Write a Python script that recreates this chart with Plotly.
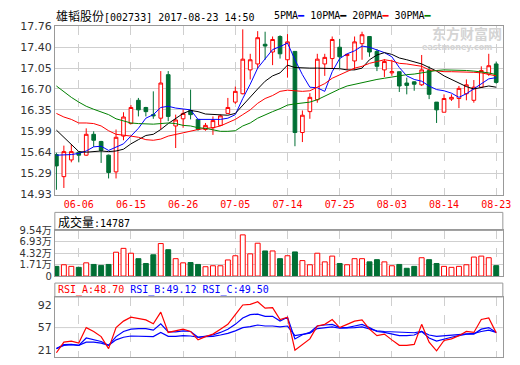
import plotly.graph_objects as go

# ---------------- data ----------------
DATES = ['06-01', '06-02', '06-05', '06-06', '06-07', '06-08', '06-09', '06-12', '06-13', '06-14',
         '06-15', '06-16', '06-19', '06-20', '06-21', '06-22', '06-23', '06-26', '06-27', '06-28',
         '06-29', '06-30', '07-03', '07-04', '07-05', '07-06', '07-07', '07-10', '07-11', '07-12',
         '07-13', '07-14', '07-17', '07-18', '07-19', '07-20', '07-21', '07-24', '07-25', '07-26',
         '07-27', '07-28', '07-31', '08-01', '08-02', '08-03', '08-04', '08-07', '08-08', '08-09',
         '08-10', '08-11', '08-14', '08-15', '08-16', '08-17', '08-18', '08-21', '08-22', '08-23']

OPEN = [15.60, 15.23, 15.51, 15.64, 15.59, 15.94, 15.82, 15.59, 15.31, 15.91,
        16.12, 16.51, 16.39, 16.27, 16.21, 16.94, 16.08, 16.20, 16.34, 16.19,
        16.02, 16.05, 16.09, 16.29, 16.48, 16.62, 17.02, 17.12, 17.45, 17.32,
        17.58, 17.19, 17.33, 15.97, 16.32, 16.52, 17.12, 17.21, 17.40, 17.26,
        17.17, 17.46, 17.58, 17.33, 17.02, 16.97, 16.99, 16.80, 16.82, 16.77,
        17.01, 16.48, 16.31, 16.53, 16.54, 16.62, 16.51, 16.73, 16.95, 17.12]
HIGH = [15.63, 15.75, 15.77, 15.65, 16.04, 15.99, 15.83, 15.60, 16.02, 16.31,
        16.43, 16.55, 16.40, 16.66, 17.00, 17.00, 16.27, 16.36, 16.69, 16.19,
        16.13, 16.24, 16.27, 16.55, 16.74, 17.70, 17.29, 17.67, 17.66, 17.58,
        17.60, 17.62, 17.33, 16.34, 16.63, 17.29, 17.29, 17.58, 17.54, 17.28,
        17.58, 17.66, 17.58, 17.37, 17.20, 17.19, 16.99, 16.89, 16.83, 17.27,
        17.08, 16.48, 16.61, 16.61, 16.75, 16.86, 16.85, 17.08, 17.29, 17.16]
LOW = [15.01, 15.04, 15.47, 15.47, 15.58, 15.73, 15.46, 15.20, 15.20, 15.84,
       16.11, 16.24, 16.24, 16.20, 16.02, 16.16, 15.71, 16.05, 16.19, 16.00,
       16.00, 15.93, 16.08, 16.28, 16.45, 16.61, 16.86, 17.05, 17.19, 17.10,
       17.21, 16.89, 15.74, 15.81, 16.20, 16.47, 16.92, 17.05, 17.05, 17.02,
       17.02, 17.19, 17.24, 17.00, 16.90, 16.92, 16.65, 16.61, 16.67, 16.75,
       16.53, 16.13, 16.31, 16.50, 16.38, 16.51, 16.47, 16.72, 16.92, 16.79]
CLOSE = [15.41, 15.65, 15.65, 15.59, 15.94, 15.84, 15.67, 15.30, 15.89, 16.23,
         16.39, 16.35, 16.32, 16.25, 16.80, 16.24, 16.18, 16.29, 16.27, 16.02,
         16.09, 16.17, 16.25, 16.39, 16.66, 17.20, 17.19, 17.56, 17.42, 17.53,
         17.29, 17.49, 15.97, 16.26, 16.56, 17.20, 17.23, 17.53, 17.24, 17.28,
         17.49, 17.61, 17.32, 17.08, 17.16, 16.99, 16.75, 16.76, 16.78, 17.02,
         16.61, 16.35, 16.54, 16.56, 16.71, 16.77, 16.73, 17.01, 17.09, 16.81]

MA5 = [15.59, 15.59, 15.60, 15.62, 15.66, 15.73, 15.74, 15.67, 15.73, 15.78,
       15.91, 16.04, 16.21, 16.27, 16.39, 16.41, 16.38, 16.36, 16.35, 16.19,
       16.19, 16.19, 16.19, 16.21, 16.27, 16.54, 16.78, 17.05, 17.21, 17.36,
       17.41, 17.47, 17.19, 16.94, 16.73, 16.72, 16.66, 16.99, 17.21, 17.29,
       17.34, 17.42, 17.40, 17.35, 17.31, 17.24, 17.06, 16.92, 16.86, 16.83,
       16.75, 16.69, 16.67, 16.63, 16.56, 16.62, 16.70, 16.78, 16.87, 16.89]
MA10 = [16.01, 15.89, 15.77, 15.65, 15.64, 15.65, 15.66, 15.65, 15.66, 15.69,
        15.78, 15.85, 15.92, 15.94, 16.02, 16.12, 16.20, 16.29, 16.34, 16.32,
        16.28, 16.27, 16.27, 16.26, 16.29, 16.43, 16.56, 16.70, 16.83, 16.92,
        16.97, 17.10, 17.06, 17.05, 17.05, 17.05, 17.05, 17.05, 17.04, 17.02,
        17.02, 17.05, 17.19, 17.27, 17.31, 17.28, 17.22, 17.19, 17.15, 17.12,
        17.06, 17.00, 16.92, 16.86, 16.79, 16.74, 16.70, 16.73, 16.75, 16.73]
MA20 = [16.29, 16.23, 16.19, 16.13, 16.13, 16.12, 16.08, 16.00, 15.94, 15.93,
        15.91, 15.89, 15.85, 15.84, 15.86, 15.91, 15.94, 15.97, 16.00, 16.02,
        16.04, 16.05, 16.08, 16.13, 16.19, 16.27, 16.35, 16.46, 16.54, 16.59,
        16.66, 16.68, 16.67, 16.66, 16.67, 16.73, 16.79, 16.88, 16.94, 17.00,
        17.05, 17.08, 17.13, 17.16, 17.19, 17.17, 17.13, 17.12, 17.10, 17.08,
        17.02, 17.00, 16.99, 16.99, 16.99, 16.99, 16.98, 16.97, 16.94, 16.92]
MA30 = [16.75, 16.65, 16.56, 16.48, 16.41, 16.36, 16.32, 16.27, 16.20, 16.16,
        16.13, 16.12, 16.11, 16.11, 16.12, 16.13, 16.12, 16.09, 16.08, 16.05,
        16.04, 16.01, 15.99, 15.99, 16.00, 16.08, 16.13, 16.21, 16.27, 16.32,
        16.37, 16.43, 16.45, 16.46, 16.48, 16.52, 16.58, 16.65, 16.70, 16.75,
        16.78, 16.81, 16.83, 16.86, 16.88, 16.90, 16.93, 16.94, 16.95, 16.97,
        17.00, 17.01, 17.02, 17.02, 17.02, 17.01, 17.00, 16.99, 16.97, 16.94]

# volume in 万 (10k)
VOLUME = [1.31, 1.68, 1.31, 1.09, 2.12, 1.75, 1.53, 1.75, 4.55, 5.43,
          4.32, 3.07, 1.97, 3.96, 6.53, 5.13, 3.07, 2.12, 2.19, 1.75,
          1.23, 1.45, 1.45, 2.78, 3.74, 8.52, 4.18, 6.61, 4.84, 4.84,
          3.07, 3.74, 4.62, 2.63, 1.68, 4.32, 2.34, 3.66, 1.97, 1.68,
          3.07, 3.07, 2.34, 2.85, 2.34, 1.45, 1.75, 0.87, 1.31, 3.29,
          2.85, 1.97, 1.31, 1.09, 1.31, 1.68, 3.44, 3.66, 3.29, 1.48]

RSI_A = [17.4, 34.1, 35.7, 32.6, 57.0, 50.9, 42.8, 24.0, 57.0, 67.2,
         73.3, 71.2, 69.2, 63.1, 81.4, 49.4, 51.9, 54.5, 50.9, 37.7,
         42.8, 46.8, 54.5, 62.1, 77.3, 92.6, 93.6, 97.6, 87.5, 88.5,
         69.7, 73.3, 21.4, 30.6, 39.2, 59.5, 62.1, 69.7, 57.0, 62.1,
         67.2, 69.2, 54.5, 44.3, 46.8, 37.7, 29.1, 29.1, 30.6, 62.1,
         34.1, 20.4, 36.7, 39.2, 44.3, 50.9, 49.4, 69.7, 72.2, 48.70]
RSI_B = [24.0, 30.1, 30.6, 29.1, 40.7, 38.2, 35.2, 29.1, 42.8, 50.9,
         54.5, 55.5, 55.5, 52.9, 63.1, 50.4, 50.4, 51.9, 50.9, 41.8,
         43.8, 45.3, 49.4, 54.5, 62.1, 72.2, 77.3, 78.3, 74.8, 74.8,
         67.2, 73.3, 39.2, 45.8, 49.4, 59.5, 61.1, 62.1, 57.0, 57.0,
         59.5, 62.1, 57.0, 50.9, 49.4, 46.8, 44.3, 44.3, 45.3, 50.9,
         40.7, 35.7, 39.2, 41.8, 44.3, 46.8, 46.8, 54.5, 57.0, 49.12]
RSI_C = [24.0, 29.1, 30.1, 29.1, 34.1, 34.1, 32.6, 29.1, 37.7, 41.8,
         43.8, 43.8, 43.8, 42.8, 49.4, 43.3, 43.3, 44.3, 43.8, 41.8,
         42.8, 43.3, 45.3, 47.9, 51.9, 57.0, 58.5, 61.1, 59.5, 59.5,
         58.0, 59.5, 44.3, 46.8, 48.4, 55.5, 57.0, 58.0, 56.0, 56.0,
         57.0, 58.0, 55.5, 51.9, 50.9, 50.4, 48.9, 48.4, 48.9, 50.9,
         45.3, 43.3, 44.3, 45.3, 46.8, 47.9, 47.9, 50.9, 52.9, 49.50]

PRICE_TICKS = [14.93, 15.29, 15.64, 15.99, 16.35, 16.70, 17.05, 17.40, 17.76]
VOL_AXIS_MIN = -0.90          # bottom of the volume scale (the chart labels it "0")
VOL_TICKS = [VOL_AXIS_MIN, 1.71, 4.32, 6.93, 9.54]
VOL_TICK_TEXT = ['0', '1.71万', '4.32万', '6.93万', '9.54万']
RSI_TICKS = [21, 57, 92]
RSI_MID = 57
DATE_TICKS = ['06-06', '06-15', '06-26', '07-05', '07-14', '07-25', '08-03', '08-14', '08-23']

TITLE_NAME = '雄韬股份'
TITLE_REST = '[002733] 2017-08-23 14:50'
VOL_LAST = '14787'

# ---------------- style ----------------
W, H = 520, 365
RED = '#ff0000'
GREEN = '#006f34'
BLUE = '#0000ff'
BORDER = '#999999'
GRID = '#cfcfcf'
MONO = 'DejaVu Sans Mono'
CJK = 'Noto Sans CJK SC'
SANS = 'DejaVu Sans, Noto Sans CJK SC'


def px(x):
    return x / W


def py(y):
    return 1 - y / H


X_DOM = [px(55.7), px(510.7)]
X_RANGE = [-0.21, 59.89]

fig = go.Figure()

fig.add_trace(go.Candlestick(
    x=DATES, open=OPEN, high=HIGH, low=LOW, close=CLOSE,
    increasing=dict(line=dict(color=RED, width=1), fillcolor='#ffffff'),
    decreasing=dict(line=dict(color=GREEN, width=1), fillcolor=GREEN),
    whiskerwidth=0, xaxis='x', yaxis='y', hoverinfo='skip'))

for vals, col in [(MA5, BLUE), (MA10, '#000000'), (MA20, RED), (MA30, '#008000')]:
    fig.add_trace(go.Scatter(x=DATES, y=vals, mode='lines',
                             line=dict(color=col, width=1), xaxis='x', yaxis='y',
                             hoverinfo='skip'))

up = [c >= o for o, c in zip(OPEN, CLOSE)]
fig.add_trace(go.Bar(
    x=DATES, y=[v - VOL_AXIS_MIN for v in VOLUME], base=VOL_AXIS_MIN, width=0.66,
    marker=dict(color=['#ffffff' if u else GREEN for u in up],
                line=dict(color=[RED if u else GREEN for u in up], width=1)),
    xaxis='x2', yaxis='y2', hoverinfo='skip'))

for vals, col in [(RSI_C, BLUE), (RSI_B, BLUE), (RSI_A, RED)]:
    fig.add_trace(go.Scatter(x=DATES, y=vals, mode='lines',
                             line=dict(color=col, width=1.2), xaxis='x3', yaxis='y3',
                             hoverinfo='skip'))

xcommon = dict(type='category', range=X_RANGE, domain=X_DOM, showline=True, mirror=True,
               linecolor=BORDER, linewidth=1, showgrid=True, gridcolor=GRID, griddash='dash',
               gridwidth=1, tickvals=DATE_TICKS, ticks='', zeroline=False, fixedrange=True)
ycommon = dict(showline=True, mirror=True, linecolor=BORDER, linewidth=1, ticks='',
               zeroline=False, tickfont=dict(family=SANS, size=11, color='#333333'),
               fixedrange=True)

fig.update_layout(
    width=W, height=H, margin=dict(l=0, r=0, t=0, b=0),
    paper_bgcolor='#ffffff', plot_bgcolor='#ffffff', showlegend=False,
    xaxis=dict(**xcommon, anchor='y', showticklabels=True,
               tickfont=dict(family=MONO, size=10, color=RED),
               rangeslider=dict(visible=False)),
    yaxis=dict(**ycommon, domain=[py(195.5), py(20.5)], range=[14.93, 17.76],
               tickvals=PRICE_TICKS, ticktext=['%.2f' % v for v in PRICE_TICKS],
               showgrid=True, gridcolor=GRID, anchor='x'),
    xaxis2=dict(**xcommon, anchor='y2', showticklabels=False),
    yaxis2=dict(**ycommon, domain=[py(280), py(232.7)], range=[VOL_AXIS_MIN, 9.54],
                tickvals=VOL_TICKS, ticktext=VOL_TICK_TEXT, showgrid=True, gridcolor=GRID,
                anchor='x2'),
    xaxis3=dict(**xcommon, anchor='y3', showticklabels=False),
    yaxis3=dict(**ycommon, domain=[py(364), py(301.7)], range=[10.7, 105.2],
                tickvals=RSI_TICKS, showgrid=False, anchor='x3'),
)
fig.update_layout(yaxis2_tickfont=dict(family=SANS, size=10, color='#333333'))

shapes = [
    dict(type='rect', xref='paper', yref='paper', x0=X_DOM[0], x1=X_DOM[1],
         y0=py(232.7), y1=py(214), line=dict(color=BORDER, width=1), layer='above'),
    dict(type='rect', xref='paper', yref='paper', x0=X_DOM[0], x1=X_DOM[1],
         y0=py(301.7), y1=py(287.3), line=dict(color=BORDER, width=1), layer='above'),
    dict(type='line', xref='paper', yref='y3', x0=X_DOM[0], x1=X_DOM[1],
         y0=RSI_MID, y1=RSI_MID, line=dict(color=GRID, width=1), layer='below'),
]
fig.update_layout(shapes=shapes)


def cjk(t, size=12, color=None):
    st = 'font-family:%s;font-size:%dpx' % (CJK, size)
    if color:
        st += ';color:%s' % color
    return '<span style="%s">%s</span>' % (st, t)


annots = [
    dict(x=px(55), y=py(10), text=cjk(TITLE_NAME) + TITLE_REST),
    dict(x=px(276), y=py(10),
         text='5PMA<span style="color:%s">━</span> 10PMA<span style="color:#000000">━</span> '
              '20PMA<span style="color:%s">━</span> 30PMA<span style="color:#008000">━</span>'
              % (BLUE, RED)),
    dict(x=px(57), y=py(223.5), text=cjk('成交量') + ':' + VOL_LAST),
    dict(x=px(57), y=py(294.5),
         text='<span style="color:%s">RSI_A:%.2f</span> <span style="color:%s">RSI_B:%.2f</span> '
              '<span style="color:%s">RSI_C:%.2f</span>'
              % (RED, RSI_A[-1], BLUE, RSI_B[-1], BLUE, RSI_C[-1])),
]
for a in annots:
    a.update(xref='paper', yref='paper', xanchor='left', yanchor='middle', showarrow=False,
             font=dict(family=MONO, size=10, color='#000000'))

# watermark
annots.append(dict(x=px(474), y=py(28), xref='paper', yref='paper', showarrow=False,
                   xanchor='center', yanchor='middle', text='<b>东方财富网</b>',
                   font=dict(family=CJK, size=14, color='#d4d4d4')))
annots.append(dict(x=px(464), y=py(43), xref='paper', yref='paper', showarrow=False,
                   xanchor='center', yanchor='middle', text='<b>eastmoney.com</b>',
                   font=dict(family='DejaVu Sans', size=8, color='#d4d4d4')))
fig.update_layout(annotations=annots)

fig.write_html('out.html',
               config={'displayModeBar': False, 'staticPlot': True},
               post_script="document.body.style.margin='0';document.body.style.padding='0';"
                           "document.body.style.overflow='hidden';")
